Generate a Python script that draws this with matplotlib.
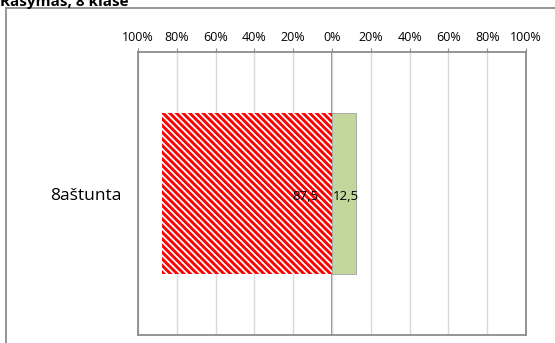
import matplotlib
matplotlib.use("Agg")
import matplotlib.pyplot as plt
from matplotlib.lines import Line2D

plt.rcParams['font.family'] = ['Open Sans', 'DejaVu Sans']
plt.rcParams['hatch.linewidth'] = 1.3

category = ["8aštunta"]
neg_values = [87.5]
pos_values = [12.5]
neg_labels = ["87,5"]
pos_labels = ["12,5"]
ticks = [-100, -80, -60, -40, -20, 0, 20, 40, 60, 80, 100]
tick_labels = [f"{abs(t)}%" for t in ticks]

fig = plt.figure(figsize=(5.55, 3.43), dpi=100)
ax = fig.add_axes([138 / 555, 1 - 335 / 343, 388 / 555, 283 / 343])

y = [0]
ax.barh(y, [-v for v in neg_values], height=0.572, color='red',
        edgecolor='white', hatch='\\\\\\\\\\', linewidth=0, zorder=2)
ax.barh(y, pos_values, height=0.572, color='#c3d69b', edgecolor='#a0a0a0',
        linewidth=0.6, zorder=2)

for i in range(len(y)):
    ax.text(-7, y[i] - 0.01, neg_labels[i], ha='right', va='center', fontsize=9.5, zorder=3)
    ax.text(0.3, y[i] - 0.01, pos_labels[i], ha='left', va='center', fontsize=9.5, zorder=3)

ax.set_xlim(-100, 100)
ax.set_ylim(-0.5, 0.5)
ax.set_xticks(ticks)
ax.set_xticklabels(tick_labels, fontsize=9)
ax.xaxis.tick_top()
ax.tick_params(axis='x', length=3, color='#8c8c8c', pad=3)
ax.set_yticks(y)
ax.set_yticklabels(category, fontsize=12.5)
ax.tick_params(axis='y', length=0, pad=12)
ax.grid(axis='x', color='#d9d9d9', linewidth=1, zorder=0)
ax.axvline(0, color='#808080', linewidth=1.3, zorder=1)
for s in ax.spines.values():
    s.set_color('#8c8c8c')
    s.set_linewidth(1.3)

# outer chart frame
fig.add_artist(Line2D([6 / 555, 6 / 555], [0, 1 - 8 / 343], color='#8c8c8c', linewidth=1.3))
fig.add_artist(Line2D([6 / 555, 1], [1 - 8 / 343, 1 - 8 / 343], color='#8c8c8c', linewidth=1.3))

fig.text(0.0, 1 - 6 / 343, "Rašymas, 8 klasė", fontsize=11, fontweight='bold',
         ha='left', va='baseline')

fig.savefig("out.png", dpi=100)
